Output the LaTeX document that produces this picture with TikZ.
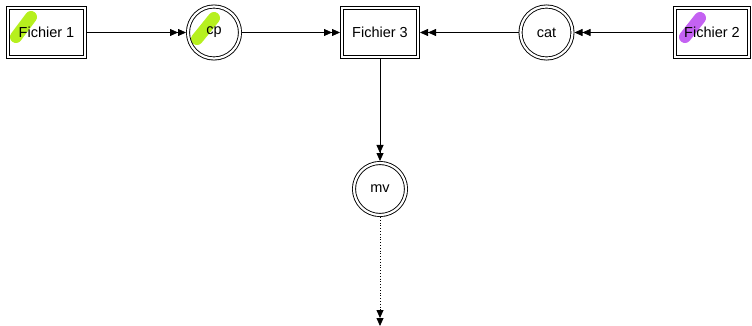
\documentclass[tikz,border=0pt]{standalone}
\usepackage{fontspec}
\setmainfont{Liberation Sans}
\usetikzlibrary{arrows.meta}
\begin{document}
\begin{tikzpicture}[x=1pt,y=1pt,
  dbl/.style={draw=black, line width=0.9pt, double=white, double distance=2.2pt, outer sep=2pt},
  filebox/.style={dbl, rectangle, minimum height=49pt, inner sep=0pt, font=\fontsize{14.5}{17}\selectfont},
  cmd/.style={dbl, circle, minimum size=52pt, inner sep=0pt, font=\fontsize{14.5}{17}\selectfont},
  hl/.style={line width=12pt, line cap=round},
  tip/.style={-{Triangle[length=8pt,width=7pt]Triangle[length=8pt,width=7pt]}},
  conn/.style={tip, line width=0.8pt}
]
\useasboundingbox (0,0) rectangle (752,-326);
\definecolor{hlgreen}{HTML}{B6F01E}
\definecolor{hlpurple}{HTML}{C462F2}
% highlights
\draw[hl, hlgreen] (16,-37) -- (31,-17);
\draw[hl, hlgreen] (197,-39) -- (214,-18);
\draw[hl, hlpurple] (685,-37) -- (700,-18);
% nodes
\node[filebox, minimum width=76.5pt] (f1) at (46.5,-32.5) {Fichier 1};
\node[cmd] (cp) at (214,-32.5) {cp};
\node[filebox, minimum width=76pt] (f3) at (380,-32.5) {Fichier 3};
\node[cmd] (cat) at (546.5,-32.5) {cat};
\node[filebox, minimum width=74pt] (f2) at (712,-32.5) {Fichier 2};
\node[cmd] (mv) at (380,-189) {mv};
\coordinate (end) at (380,-326);
% connectors
\draw[conn] (f1) -- (cp);
\draw[conn] (cp) -- (f3);
\draw[conn] (cat) -- (f3);
\draw[conn] (f2) -- (cat);
\draw[conn] (f3) -- (mv);
\draw[conn, dotted] (mv) -- (end);
\end{tikzpicture}
\end{document}
